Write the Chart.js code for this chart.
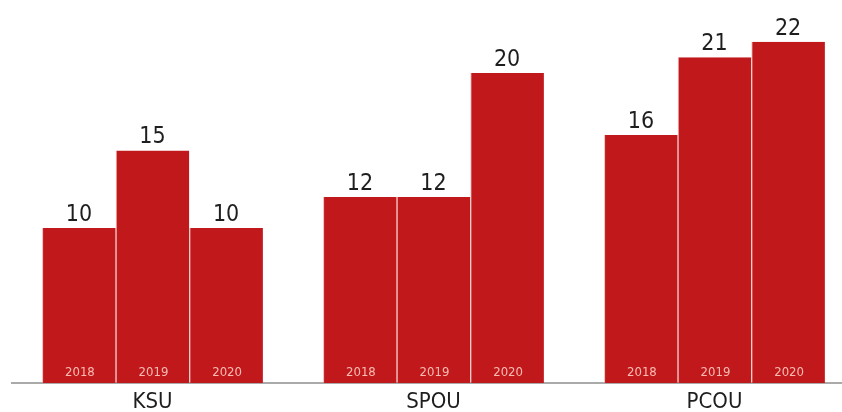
<!DOCTYPE html>
<html>
<head>
<meta charset="utf-8">
<script src="https://cdn.jsdelivr.net/npm/chart.js@4"></script>
<style>
  html, body { margin: 0; padding: 0; background: #fff; overflow: hidden; width: 842px; height: 412px; }
  #wrap { position: absolute; left: 0; top: 0; width: 855px; height: 412px; }
</style>
</head>
<body>
<div id="wrap"><canvas id="c" width="855" height="412"></canvas></div>
<script>
const categories = ["KSU", "SPOU", "PCOU"];
const years = ["2018", "2019", "2020"];
const values2018 = [10, 12, 16];
const values2019 = [15, 12, 21];
const values2020 = [10, 20, 22];

const barColor = "#c0181b";
const seriesValues = [values2018, values2019, values2020];

const labelPlugin = {
  id: "barLabels",
  afterDatasetsDraw(chart) {
    const ctx = chart.ctx;
    const bottom = chart.chartArea.bottom;
    chart.data.datasets.forEach((ds, di) => {
      const meta = chart.getDatasetMeta(di);
      meta.data.forEach((bar, i) => {
        ctx.save();
        ctx.textAlign = "center";
        // value above bar
        ctx.fillStyle = "#1e1e1e";
        ctx.font = "23px 'Liberation Sans Narrow', 'DejaVu Sans Condensed', sans-serif";
        ctx.textBaseline = "alphabetic";
        ctx.fillText(String(ds.data[i]), bar.x, bar.y - 7);
        // year inside bar
        ctx.fillStyle = "rgba(255,215,205,0.85)";
        ctx.font = "13px 'DejaVu Sans Condensed', sans-serif";
        ctx.textBaseline = "middle";
        ctx.fillText(ds.label, bar.x + 1, bottom - 10);
        ctx.restore();
      });
    });
  }
};

new Chart(document.getElementById("c"), {
  type: "bar",
  data: {
    labels: categories,
    datasets: years.map((y, k) => ({
      label: y,
      data: seriesValues[k],
      backgroundColor: barColor,
      borderColor: "rgba(235,140,130,0.6)",
      borderWidth: { left: 1, right: 0, top: 0, bottom: 0 },
      borderSkipped: false,
      barPercentage: 1.0,
      categoryPercentage: 0.786
    }))
  },
  options: {
    responsive: false,
    devicePixelRatio: 1,
    animation: false,
    layout: { padding: { left: 12, right: 0, top: 0, bottom: 0 } },
    plugins: { legend: { display: false }, tooltip: { enabled: false } },
    scales: {
      x: {
        grid: { display: false, drawTicks: false },
        border: { display: true, color: "#aaaaaa", width: 2 },
        ticks: {
          color: "#1e1e1e",
          padding: 8,
          font: { family: "'Liberation Sans Narrow', 'DejaVu Sans Condensed', sans-serif", size: 22, lineHeight: 1 }
        },
        afterFit(s) { s.height = 29; }
      },
      y: {
        display: false,
        min: 0,
        max: 24.7
      }
    }
  },
  plugins: [labelPlugin]
});
</script>
</body>
</html>
